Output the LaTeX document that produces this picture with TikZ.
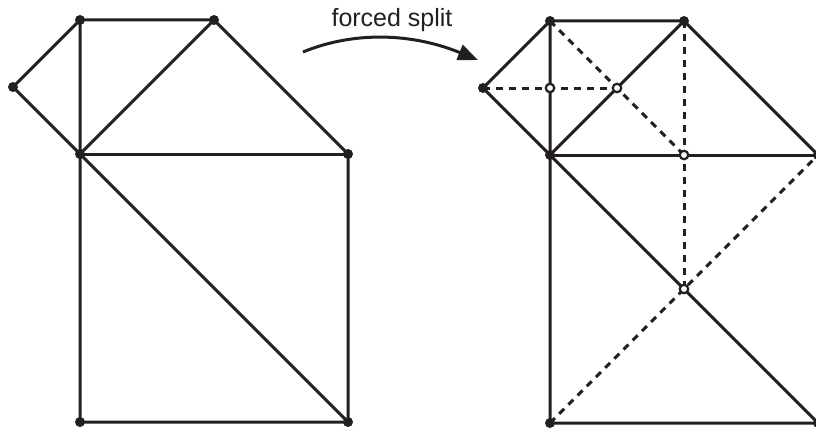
\documentclass[tikz,border=0pt]{standalone}
\usepackage{fontspec}
\setmainfont{Liberation Sans}
\usetikzlibrary{arrows.meta}
\definecolor{ink}{HTML}{231F20}
\begin{document}
\begin{tikzpicture}[x=1pt,y=-1pt,
  edge/.style={draw=ink,line width=3pt,line cap=round},
  dashedge/.style={draw=ink,line width=3pt,dash pattern=on 7pt off 6pt},
  vdot/.style={circle,fill=ink,inner sep=0pt,minimum size=10pt},
  odot/.style={circle,draw=ink,fill=white,line width=2.2pt,inner sep=0pt,minimum size=8.5pt},
  lbl/.style={font=\fontsize{25}{30}\selectfont,text=ink,inner sep=0pt}]
\useasboundingbox (0,0) rectangle (816,428);
% left figure
\foreach \p/\x/\y in {A/80/20, B/214/20, C/13/87, D/80/154, E/348/154, F/80/422, G/348/422}
  \coordinate (\p) at (\x,\y);
% right figure
\foreach \p/\x/\y in {A/550/21, B/684/21, C/483/88, D/550/155, E/818/155, F/550/423, G/818/423}
  \coordinate (\p2) at (\x,\y);
\coordinate (M1) at (550,88);
\coordinate (M2) at (617,88);
\coordinate (M3) at (684,155);
\coordinate (M4) at (684,289);
\foreach \s in {,2}{
  \draw[edge] (C\s) -- (A\s) -- (B\s) -- (E\s) -- (G\s) -- (F\s) -- (D\s) -- (A\s);
  \draw[edge] (C\s) -- (D\s) -- (B\s);
  \draw[edge] (D\s) -- (E\s);
  \draw[edge] (D\s) -- (G\s);
}
% dashed splits
\draw[dashedge] (A2) -- (M3);
\draw[dashedge] (C2) -- (M2);
\draw[dashedge] (B2) -- (M4);
\draw[dashedge] (F2) -- (E2);
% vertex dots
\foreach \p in {A,B,C,D,E,F,G}{
  \node[vdot] (d\p) at (\p) {};
  \node[vdot] (d\p2) at (\p2) {};
}
\foreach \p in {M1,M2,M3,M4}
  \node[odot] (o\p) at (\p) {};
% arrow and label
\coordinate (arrS) at (303,52);
\coordinate (arrE) at (478,60);
\draw[draw=ink,line width=3pt,-{Triangle[length=20pt,width=16pt]}] (arrS) .. controls (354,31) and (412,33) .. (arrE);
\node[lbl,anchor=base] (label) at (392,27) {forced split};
\end{tikzpicture}
\end{document}
